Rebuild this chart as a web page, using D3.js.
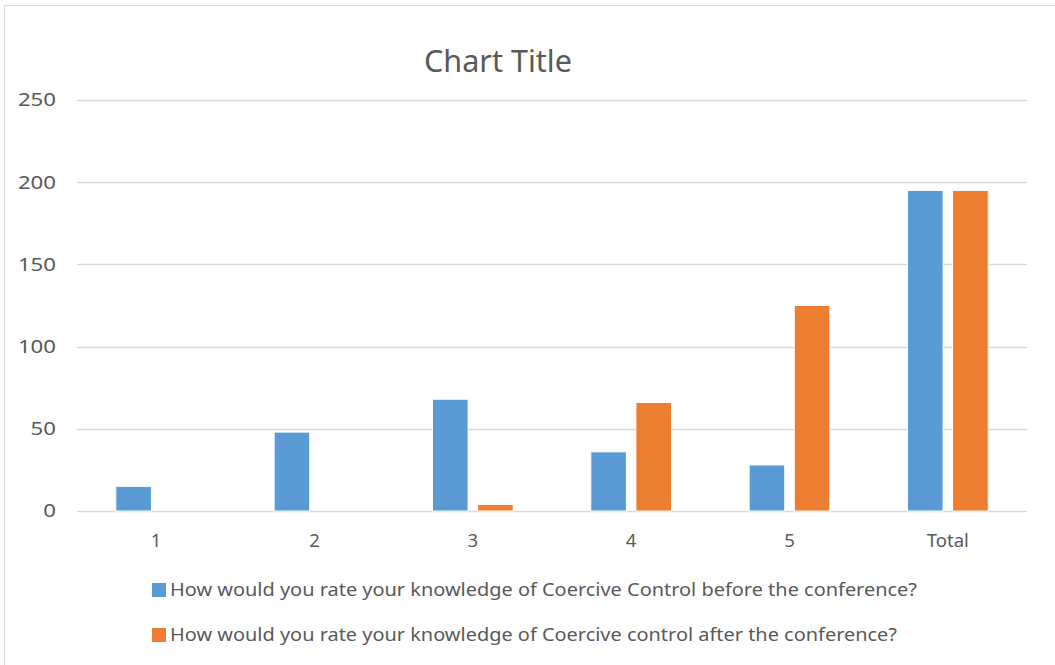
<!DOCTYPE html>
<html>
<head>
<meta charset="utf-8">
<script src="https://cdn.jsdelivr.net/npm/d3@7"></script>
<style>
  body { margin: 0; background: #fff; }
  text { font-family: "Noto Sans", "Open Sans", sans-serif; fill: #595959; }
</style>
</head>
<body>
<script>
// data
var categories = ["1", "2", "3", "4", "5", "Total"];
var seriesNames = [
  "How would you rate your knowledge of Coercive Control before the conference?",
  "How would you rate your knowledge of Coercive control after the conference?"
];
var beforeValues = [15, 48, 68, 36, 28, 195];
var afterValues = [0, 0, 4, 66, 125, 195];
var yTicks = [0, 50, 100, 150, 200, 250];
var colors = ["#5B9BD5", "#ED7D31"];

var svgWidth = 1055;
var svgHeight = 665;

// plot area
var margin = { top: 100, right: 28, bottom: 154, left: 77 };
var width = svgWidth - margin.left - margin.right;
var height = svgHeight - margin.top - margin.bottom;

var svg = d3.select("body")
  .append("svg")
  .attr("width", svgWidth)
  .attr("height", svgHeight);

// chart border
svg.append("rect")
  .attr("x", 4.5)
  .attr("y", 5.5)
  .attr("width", svgWidth - 4)
  .attr("height", svgHeight)
  .attr("fill", "#fff")
  .attr("stroke", "#d9d9d9");

var chartGroup = svg.append("g")
  .attr("transform", `translate(${margin.left}, ${margin.top})`);

var x0 = d3.scaleBand()
  .domain(categories)
  .range([0, width])
  .padding(0);

var y = d3.scaleLinear()
  .domain([0, 250])
  .range([height, 0]);

// gridlines
chartGroup.selectAll(".grid")
  .data(yTicks)
  .enter()
  .append("line")
  .attr("x1", 0)
  .attr("x2", width)
  .attr("y1", d => Math.round(y(d)) + 0.5)
  .attr("y2", d => Math.round(y(d)) + 0.5)
  .attr("stroke", "#d9d9d9")
  .attr("stroke-width", 1.3);

// y labels
chartGroup.selectAll(".ylab")
  .data(yTicks)
  .enter()
  .append("text")
  .attr("x", -21)
  .attr("y", d => y(d))
  .attr("dy", "0.35em")
  .attr("text-anchor", "end")
  .style("font-size", "18.5px")
  .attr("textLength", d => String(d).length * 12.7)
  .attr("lengthAdjust", "spacingAndGlyphs")
  .text(d => d);

// x labels
chartGroup.selectAll(".xlab")
  .data(categories)
  .enter()
  .append("text")
  .attr("x", d => x0(d) + x0.bandwidth() / 2)
  .attr("y", height + 36)
  .attr("text-anchor", "middle")
  .style("font-size", "18.5px")
  .text(d => d);

// bars
var barW = x0.bandwidth() * 0.225;
var gap = x0.bandwidth() * 0.06;
var x1 = d3.scaleOrdinal()
  .domain([0, 1])
  .range([-barW - gap / 2, gap / 2]);

var rows = categories.map((c, i) => ({ cat: c, vals: [beforeValues[i], afterValues[i]] }));

var groups = chartGroup.selectAll(".cat")
  .data(rows)
  .enter()
  .append("g")
  .attr("transform", d => `translate(${x0(d.cat) + x0.bandwidth() / 2}, 0)`);

groups.selectAll("rect")
  .data(d => d.vals.map((v, k) => ({ v: v, k: k })))
  .enter()
  .append("rect")
  .filter(d => d.v > 0)
  .attr("x", d => x1(d.k))
  .attr("y", d => y(d.v))
  .attr("width", barW)
  .attr("height", d => height - y(d.v))
  .attr("fill", d => colors[d.k])
  .attr("stroke", "#fff")
  .attr("stroke-width", 1);

// title
svg.append("text")
  .attr("x", 498)
  .attr("y", 72)
  .attr("text-anchor", "middle")
  .style("font-size", "30px")
  .attr("textLength", 148)
  .attr("lengthAdjust", "spacingAndGlyphs")
  .text("Chart Title");

// legend
var legend = svg.selectAll(".legend")
  .data(seriesNames)
  .enter()
  .append("g")
  .attr("transform", (d, i) => `translate(152, ${583 + i * 45})`);

legend.append("rect")
  .attr("width", 14)
  .attr("height", 14)
  .attr("fill", (d, i) => colors[i]);

legend.append("text")
  .attr("x", 18)
  .attr("y", 7)
  .attr("dy", "0.35em")
  .style("font-size", "18.5px")
  .attr("textLength", (d, i) => i === 0 ? 747 : 727)
  .attr("lengthAdjust", "spacingAndGlyphs")
  .text(d => d);
</script>
</body>
</html>
